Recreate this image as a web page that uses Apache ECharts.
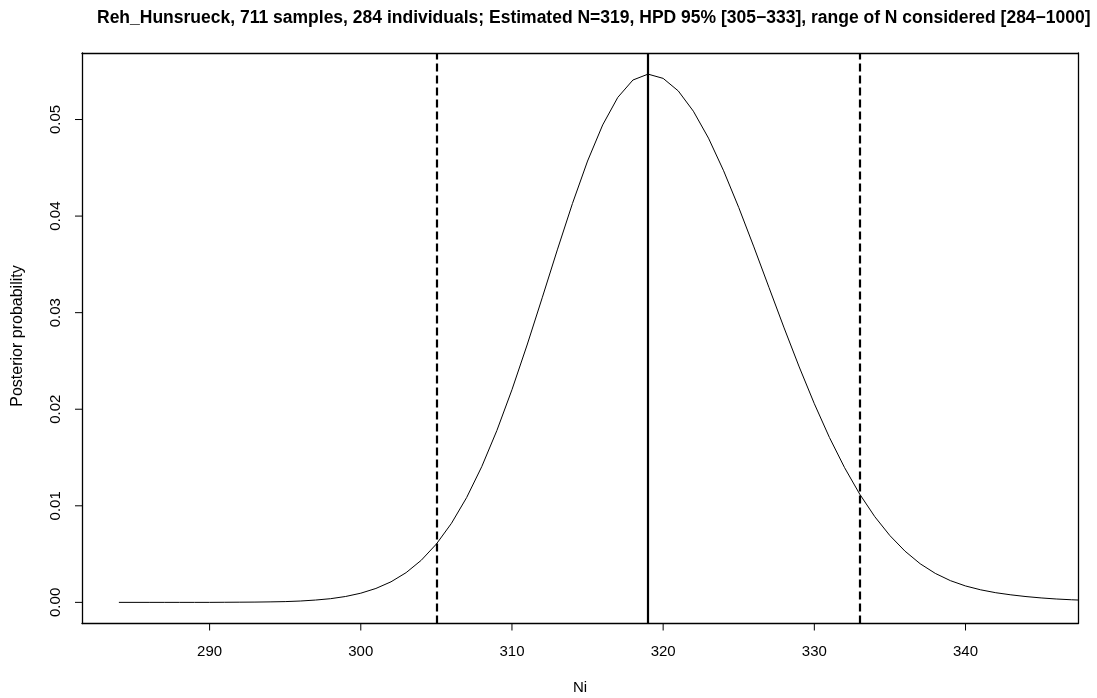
<!DOCTYPE html>
<html>
<head>
<meta charset="utf-8">
<script src="https://cdn.jsdelivr.net/npm/echarts@6/dist/echarts.min.js"></script>
<style>
html,body{margin:0;padding:0;background:#fff;}
#chart{width:1097px;height:698px;}
</style>
</head>
<body>
<div id="chart"></div>
<script>
// ---- data ----
const titleText = "Reh_Hunsrueck, 711 samples, 284 individuals; Estimated N=319, HPD 95% [305\u2212333], range of N considered [284\u22121000]";
const xName = "Ni";
const yName = "Posterior probability";
const Ni = [284,285,286,287,288,289,290,291,292,293,294,295,296,297,298,299,300,301,302,303,304,305,306,307,308,309,310,311,312,313,314,315,316,317,318,319,320,321,322,323,324,325,326,327,328,329,330,331,332,333,334,335,336,337,338,339,340,341,342,343,344,345,346,347,348];
const prob = [0.00000,0.00000,0.00000,0.00000,0.00000,0.00000,0.00000,0.00001,0.00002,0.00003,0.00005,0.00008,0.00014,0.00024,0.00038,0.00061,0.00095,0.00144,0.00213,0.00308,0.00436,0.00604,0.00819,0.01085,0.01405,0.01779,0.02202,0.02665,0.03154,0.03650,0.04130,0.04570,0.04944,0.05229,0.05409,0.05470,0.05426,0.05296,0.05086,0.04807,0.04469,0.04089,0.03681,0.03261,0.02842,0.02438,0.02057,0.01707,0.01395,0.01121,0.00887,0.00691,0.00530,0.00400,0.00300,0.00225,0.00170,0.00130,0.00100,0.00078,0.00060,0.00046,0.00035,0.00027,0.00021];
const xTicks = [290,300,310,320,330,340];
const yTicks = [0,0.01,0.02,0.03,0.04,0.05];
const estimateN = 319;
const hpdBounds = [305,333];
const xRange = [281.56, 347.44];
const yRange = [-0.002188, 0.056888];

const chart = echarts.init(document.getElementById('chart'), null, {renderer:'canvas'});
const FONT = 'Liberation Sans';
const TICK_LEN = 7;
const frameAxis = (pos) => ({
  type:'value', position:pos, min:0, max:1,
  axisLine:{show:true,onZero:false,lineStyle:{color:'#000',width:1.3}},
  axisTick:{show:false}, axisLabel:{show:false}, splitLine:{show:false}
});
// outward tick marks placed through the axes' own scales
const tickSeries = (data, horizontal) => ({
  type:'custom', xAxisIndex:0, yAxisIndex:0, silent:true, clip:false, z:5,
  data:data,
  renderItem:(params, api) => {
    const p = api.coord([api.value(0), api.value(1)]);
    return {
      type:'line',
      shape: horizontal ? {x1:p[0], y1:p[1], x2:p[0]-TICK_LEN, y2:p[1]}
                        : {x1:p[0], y1:p[1], x2:p[0], y2:p[1]+TICK_LEN},
      style:{stroke:'#000', lineWidth:1}
    };
  }
});
const option = {
  animation:false,
  backgroundColor:'#fff',
  title:{
    text:titleText,
    left:92, top:4,
    textStyle:{fontFamily:FONT,fontSize:17.5,fontWeight:'bold',color:'#000'}
  },
  grid:{left:82,right:19,top:53,bottom:74.5,show:false},
  xAxis:[{
    type:'value', min:xRange[0], max:xRange[1],
    axisLine:{show:true,onZero:false,lineStyle:{color:'#000',width:1.3}},
    splitLine:{show:false},
    axisTick:{show:false},
    axisLabel:{show:true,customValues:xTicks,margin:21,fontFamily:FONT,fontSize:15,color:'#000'}
  }, frameAxis('top')],
  yAxis:[{
    type:'value', min:yRange[0], max:yRange[1],
    axisLine:{show:true,onZero:false,lineStyle:{color:'#000',width:1.3}},
    splitLine:{show:false},
    axisTick:{show:false},
    axisLabel:{show:true,customValues:yTicks,rotate:90,margin:19,fontFamily:FONT,fontSize:15,color:'#000',
      formatter:v=>v.toFixed(2)}
  }, frameAxis('right')],
  graphic:[
    {type:'text',x:580,y:688,style:{text:xName,fontFamily:FONT,fontSize:15,fill:'#000',textAlign:'center',textVerticalAlign:'middle'}},
    {type:'text',x:18,y:336,rotation:Math.PI/2,style:{text:yName,fontFamily:FONT,fontSize:16,fill:'#000',textAlign:'center',textVerticalAlign:'middle'}}
  ],
  series:[{
    type:'line',
    xAxisIndex:0, yAxisIndex:0,
    data:Ni.map((n,i)=>[n,prob[i]]),
    showSymbol:false,
    clip:true,
    lineStyle:{color:'#000',width:1},
    markLine:{
      silent:true,symbol:'none',label:{show:false},
      data:[
        {xAxis:hpdBounds[0],lineStyle:{color:'#000',width:2.2,type:[8,4]}},
        {xAxis:estimateN,lineStyle:{color:'#000',width:2.2,type:'solid'}},
        {xAxis:hpdBounds[1],lineStyle:{color:'#000',width:2.2,type:[8,4]}}
      ]
    }
  },
  tickSeries(xTicks.map(v=>[v, yRange[0]]), false),
  tickSeries(yTicks.map(v=>[xRange[0], v]), true)
  ]
};
chart.setOption(option);
</script>
</body>
</html>
